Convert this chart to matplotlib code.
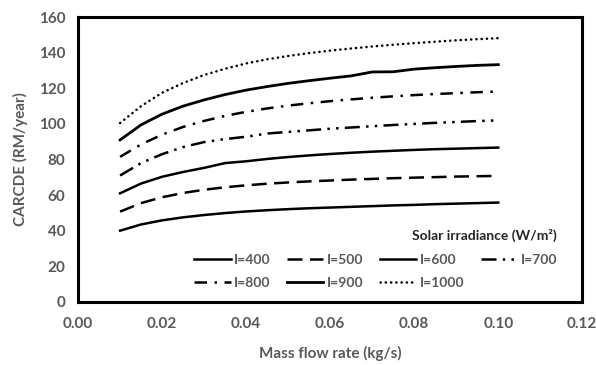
import matplotlib.pyplot as plt
import numpy as np

plt.rcParams['font.family'] = ['Lato', 'DejaVu Sans']

# Débit massique (kg/s)
mass_flow = [0.010, 0.015, 0.020, 0.025, 0.030, 0.035, 0.040, 0.045, 0.050, 0.055,
             0.060, 0.065, 0.070, 0.075, 0.080, 0.085, 0.090, 0.095, 0.100]

# CARCDE (RM/year) pour chaque irradiance
carcde_400 = [40.0, 43.5, 45.8, 47.5, 48.8, 49.9, 50.8, 51.5, 52.1, 52.6,
              53.0, 53.4, 53.8, 54.2, 54.5, 54.9, 55.2, 55.5, 55.8]
carcde_500 = [50.7, 55.5, 58.8, 61.2, 63.0, 64.4, 65.5, 66.4, 67.1, 67.7,
              68.2, 68.7, 69.1, 69.5, 69.8, 70.1, 70.4, 70.6, 70.8]
carcde_600 = [61.0, 66.5, 70.3, 73.0, 75.3, 78.0, 79.0, 80.3, 81.4, 82.3,
              83.1, 83.8, 84.4, 84.9, 85.4, 85.8, 86.1, 86.4, 86.7]
carcde_700 = [71.0, 78.0, 83.0, 87.0, 89.8, 91.5, 92.8, 94.6, 95.5, 96.4,
              97.3, 98.0, 98.7, 99.4, 100.0, 100.6, 101.1, 101.6, 102.0]
carcde_800 = [81.5, 88.5, 94.0, 98.3, 101.7, 104.5, 106.8, 108.7, 110.3, 111.6,
              112.8, 113.8, 114.7, 115.5, 116.2, 116.8, 117.3, 117.8, 118.2]
carcde_900 = [91.0, 99.5, 105.5, 110.0, 113.5, 116.5, 119.0, 121.0, 122.8, 124.3,
              125.7, 127.0, 129.2, 129.3, 130.8, 131.6, 132.3, 132.9, 133.3]
carcde_1000 = [100.5, 110.0, 117.5, 123.0, 127.5, 131.0, 134.0, 136.3, 138.2, 139.8,
               141.2, 142.4, 143.5, 144.5, 145.4, 146.2, 147.0, 147.6, 148.2]

labels = ['I=400', 'I=500', 'I=600', 'I=700', 'I=800', 'I=900', 'I=1000']
series = [carcde_400, carcde_500, carcde_600, carcde_700, carcde_800, carcde_900, carcde_1000]

# Styles de ligne
styles = [
    dict(linestyle='-', linewidth=1.8),
    dict(linestyle=(0, (6, 3)), linewidth=1.8),
    dict(linestyle='-', linewidth=1.8),
    dict(linestyle=(0, (6, 2.5, 1, 2.5, 1, 2.5)), linewidth=1.8),
    dict(linestyle=(0, (5, 3, 1, 3)), linewidth=1.8),
    dict(linestyle='-', linewidth=2.0),
    dict(linestyle=(0, (0.1, 2.0)), linewidth=1.8, dash_capstyle='round'),
]

gray = '#595959'

fig, ax = plt.subplots(figsize=(5.96, 3.65), dpi=100)
fig.subplots_adjust(left=0.131, right=0.977, bottom=0.173, top=0.953)

lines = []
for y, lab, st in zip(series, labels, styles):
    ln, = ax.plot(mass_flow, y, color='black', label=lab, **st)
    lines.append(ln)

ax.set_xlim(0, 0.12)
ax.set_ylim(0, 160)
ax.set_xticks(np.arange(0, 0.121, 0.02))
ax.set_yticks(np.arange(0, 161, 20))
ax.set_xticklabels([f'{v:.2f}' for v in np.arange(0, 0.121, 0.02)])
ax.tick_params(length=0, labelsize=11, labelcolor=gray)
ax.tick_params(axis='x', pad=11)
ax.tick_params(axis='y', pad=9)
for lbl in ax.get_xticklabels() + ax.get_yticklabels():
    lbl.set_fontweight('bold')

for sp in ax.spines.values():
    sp.set_linewidth(2.2)
    sp.set_color('black')

ax.set_xlabel('Mass flow rate (kg/s)', fontsize=11, fontweight='bold', color=gray, labelpad=11)
ax.set_ylabel('CARCDE (RM/year)', fontsize=11, fontweight='bold', color=gray, labelpad=8)

# Légende sur 4 colonnes, remplie ligne par ligne
order = [0, 4, 1, 5, 2, 6, 3]
leg = ax.legend([lines[i] for i in order], [labels[i] for i in order],
                ncol=4, loc='lower right', bbox_to_anchor=(0.975, 0.0),
                frameon=False, fontsize=10, handlelength=2.6, handletextpad=0.25,
                columnspacing=1.2, labelspacing=0.85,
                title='Solar irradiance (W/m²)', alignment='right',
                title_fontproperties={'weight': 'bold', 'size': 10})
for t in leg.get_texts():
    t.set_color(gray)
    t.set_fontweight('bold')
leg.get_title().set_color('#262626')

plt.savefig('out.png', dpi=100)
